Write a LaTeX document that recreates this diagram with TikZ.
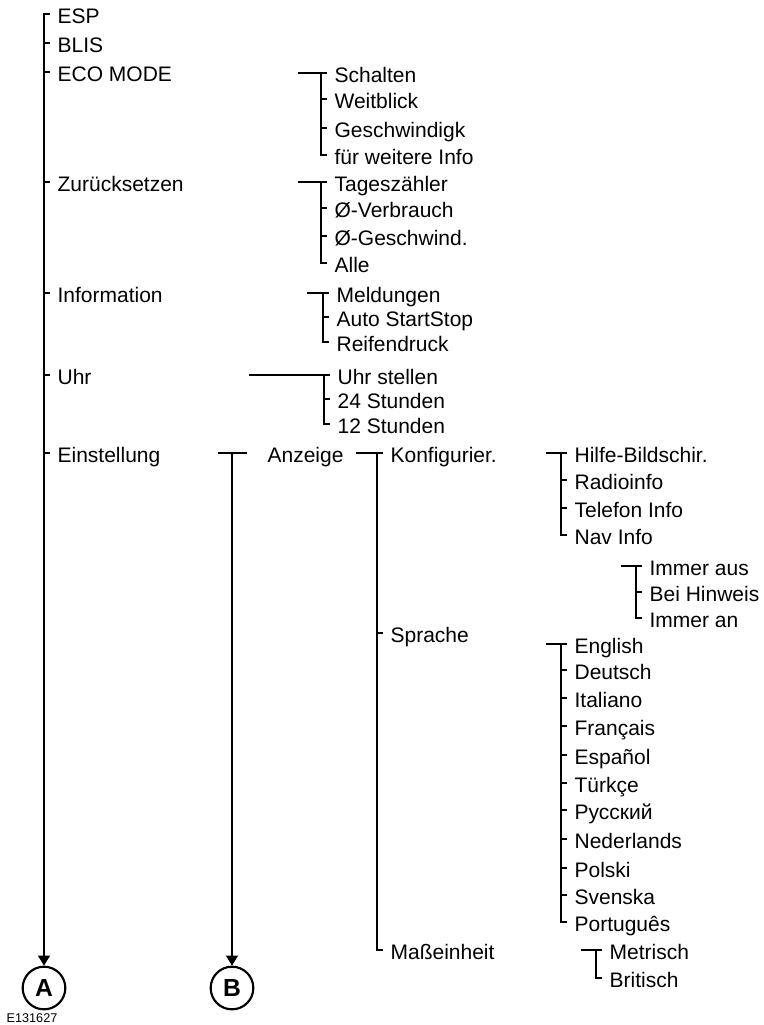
\documentclass[tikz,border=0pt]{standalone}
\usepackage{fontspec}
\setmainfont{Liberation Sans}
\usepackage{tikz}
\usetikzlibrary{arrows.meta,positioning,calc}
\tikzset{
    item/.style={anchor=west, inner xsep=5.5pt, inner ysep=0pt,
                 text height=14.2pt, text depth=0pt,
                 font=\fontsize{15.75}{18}\selectfont},
    link/.style={line width=1pt, black},
    jump/.style={circle, draw, line width=1.6pt, minimum size=32pt,
                 inner sep=0pt, font=\bfseries\fontsize{18.5}{20}\selectfont},
    down/.style={link, -{Triangle[length=7.5pt,width=9pt]}},
}
\begin{document}
\begin{tikzpicture}[x=0.75pt, y=-0.75pt]
    \useasboundingbox (0,0) rectangle (764,1025);

    % main column
    \node[item] (esp) at (50,14) {ESP};
    \node[item] (blis) at (50,43) {BLIS};
    \node[item] (eco) at (50,72) {ECO MODE};
    \node[item] (reset) at (50,182) {Zurücksetzen};
    \node[item] (info) at (50,293) {Information};
    \node[item] (uhr) at (50,375) {Uhr};
    \node[item] (einst) at (50,453) {Einstellung};
    \node[jump] (A) at (44,988) {A};
    \node[jump] (B) at (232,988) {B};
    \node[font=\fontsize{9.5}{11}\selectfont, inner sep=0pt] (code) at (32,1018) {E131627};

    \draw[down] (esp.west) -| (A.north);
    \foreach \n in {blis,eco,reset,info,uhr,einst}
        \draw[link] (\n.west) -- ++(-6,0);

    % ECO MODE
    \node[item] (schalten) at (327,73) {Schalten};
    \node[item] (weit) at (327,99) {Weitblick};
    \node[item] (geschw) at (327,128) {Geschwindigk};
    \node[item] (fuer) at (327,155) {für weitere Info};
    \coordinate (ecoin) at (298,73);
    \draw[link] (ecoin) -- (schalten.west);
    \draw[link] (fuer.west) -- ++(-6,0) |- (schalten.west);
    \foreach \n in {weit,geschw}
        \draw[link] (\n.west) -- ++(-6,0);

    % Zuruecksetzen
    \node[item] (tages) at (327,182) {Tageszähler};
    \node[item] (verbr) at (327,208) {Ø-Verbrauch};
    \node[item] (gesch) at (327,236) {Ø-Geschwind.};
    \node[item] (alle) at (327,263) {Alle};
    \coordinate (resetin) at (298,182);
    \draw[link] (resetin) -- (tages.west);
    \draw[link] (alle.west) -- ++(-6,0) |- (tages.west);
    \foreach \n in {verbr,gesch}
        \draw[link] (\n.west) -- ++(-6,0);

    % Information
    \node[item] (meld) at (329,293) {Meldungen};
    \node[item] (auto) at (329,317) {Auto StartStop};
    \node[item] (reif) at (329,342) {Reifendruck};
    \coordinate (infoin) at (307,293);
    \draw[link] (infoin) -- (meld.west);
    \draw[link] (reif.west) -- ++(-6,0) |- (meld.west);
    \draw[link] (auto.west) -- ++(-6,0);

    % Uhr
    \node[item] (stellen) at (330,375) {Uhr stellen};
    \node[item] (h24) at (330,399) {24 Stunden};
    \node[item] (h12) at (330,424) {12 Stunden};
    \coordinate (uhrin) at (249,375);
    \draw[link] (uhrin) -- (stellen.west);
    \draw[link] (h12.west) -- ++(-6,0) |- (stellen.west);
    \draw[link] (h24.west) -- ++(-6,0);

    % Einstellung
    \coordinate (einin) at (218,453);
    \coordinate (einout) at (247,453);
    \draw[link] (einin) -- (einout);
    \draw[down] (einin -| B.north) -- (B.north);
    \node[item] (anz) at (260,453) {Anzeige};

    \node[item] (konf) at (383,453) {Konfigurier.};
    \node[item] (sprache) at (383,633) {Sprache};
    \node[item] (mass) at (383,950) {Maßeinheit};
    \coordinate (konfin) at (356,453);
    \draw[link] (konfin) -- (konf.west);
    \draw[link] (mass.west) -- ++(-6,0) |- (konf.west);
    \draw[link] (sprache.west) -- ++(-6,0);

    % Konfigurier.
    \node[item] (hilfe) at (567,453) {Hilfe-Bildschir.};
    \node[item] (radio) at (567,480) {Radioinfo};
    \node[item] (tel) at (567,508) {Telefon Info};
    \node[item] (nav) at (567,535) {Nav Info};
    \coordinate (hilfein) at (546,453);
    \draw[link] (hilfein) -- (hilfe.west);
    \draw[link] (nav.west) -- ++(-6,0) |- (hilfe.west);
    \foreach \n in {radio,tel}
        \draw[link] (\n.west) -- ++(-6,0);

    \node[item] (aus) at (642,566) {Immer aus};
    \node[item] (hinw) at (642,592) {Bei Hinweis};
    \node[item] (an) at (642,618) {Immer an};
    \coordinate (ausin) at (621,566);
    \draw[link] (ausin) -- (aus.west);
    \draw[link] (an.west) -- ++(-6,0) |- (aus.west);
    \draw[link] (hinw.west) -- ++(-6,0);

    % Sprache
    \node[item] (en) at (567,644) {English};
    \node[item] (de) at (567,670) {Deutsch};
    \node[item] (it) at (567,698) {Italiano};
    \node[item] (fr) at (567,726) {Français};
    \node[item] (es) at (567,755) {Español};
    \node[item] (tr) at (567,783) {Türkçe};
    \node[item] (ru) at (567,810) {Русский};
    \node[item] (nl) at (567,839) {Nederlands};
    \node[item] (pl) at (567,868) {Polski};
    \node[item] (sv) at (567,895) {Svenska};
    \node[item] (pt) at (567,922) {Português};
    \coordinate (enin) at (546,644);
    \draw[link] (enin) -- (en.west);
    \draw[link] (pt.west) -- ++(-6,0) |- (en.west);
    \foreach \n in {de,it,fr,es,tr,ru,nl,pl,sv}
        \draw[link] (\n.west) -- ++(-6,0);

    % Masseinheit
    \node[item] (metr) at (602,950) {Metrisch};
    \node[item] (brit) at (602,978) {Britisch};
    \coordinate (metrin) at (581,950);
    \draw[link] (metrin) -- (metr.west);
    \draw[link] (brit.west) -- ++(-6,0) |- (metr.west);
\end{tikzpicture}
\end{document}
